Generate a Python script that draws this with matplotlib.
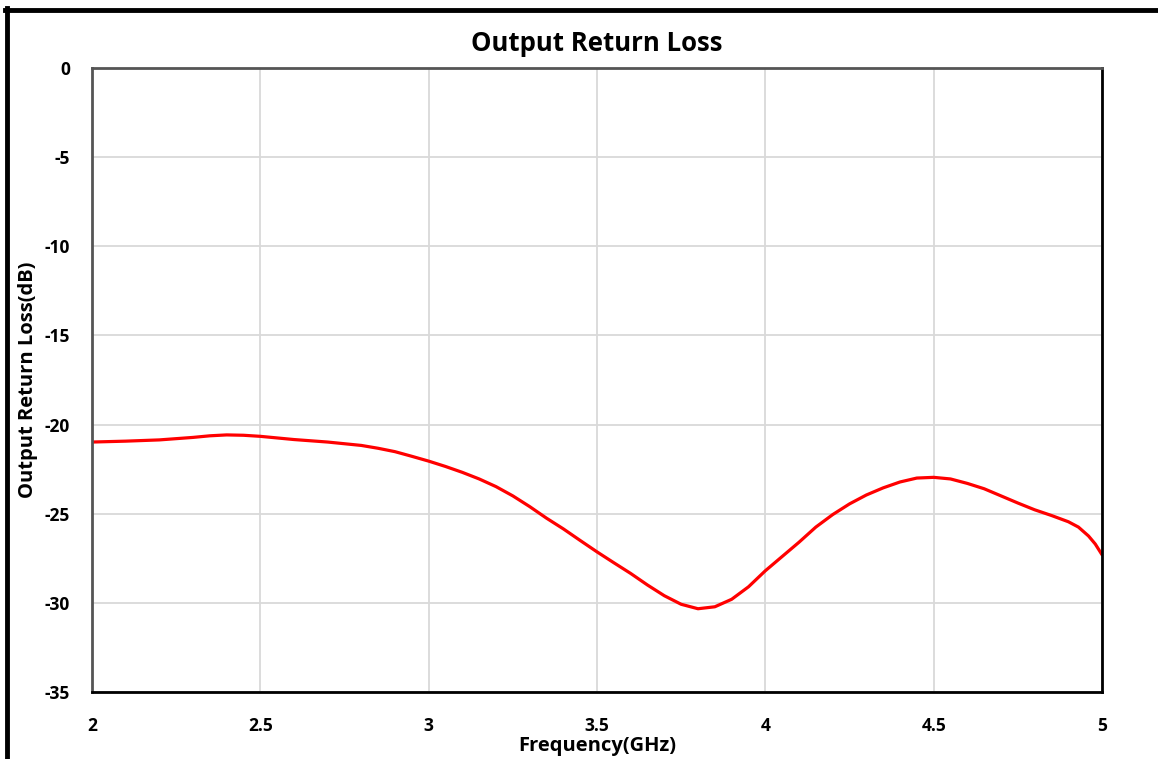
import matplotlib.pyplot as plt
from matplotlib.lines import Line2D

plt.rcParams["axes.unicode_minus"] = False

# values
freq_ghz = [2.0, 2.1, 2.2, 2.3, 2.35, 2.4, 2.45, 2.5, 2.6, 2.7,
            2.8, 2.85, 2.9, 2.95, 3.0, 3.05, 3.1, 3.15, 3.2, 3.25,
            3.3, 3.35, 3.4, 3.45, 3.5, 3.55, 3.6, 3.65, 3.7, 3.75,
            3.8, 3.85, 3.9, 3.95, 4.0, 4.05, 4.1, 4.15, 4.2, 4.25,
            4.3, 4.35, 4.4, 4.45, 4.5, 4.55, 4.6, 4.65, 4.7, 4.75,
            4.8, 4.85, 4.9, 4.93, 4.96, 4.98, 5.0]
return_loss_db = [-20.98, -20.93, -20.86, -20.72, -20.63, -20.58, -20.6, -20.66, -20.84, -20.98,
                  -21.17, -21.33, -21.52, -21.78, -22.05, -22.35, -22.68, -23.05, -23.48, -24.0,
                  -24.6, -25.25, -25.85, -26.5, -27.14, -27.75, -28.35, -29.0, -29.6, -30.08,
                  -30.33, -30.22, -29.8, -29.1, -28.2, -27.4, -26.6, -25.75, -25.05, -24.45,
                  -23.95, -23.55, -23.22, -23.0, -22.96, -23.05, -23.3, -23.6, -24.0, -24.4,
                  -24.78, -25.1, -25.45, -25.75, -26.25, -26.7, -27.3]

x_ticks = [2, 2.5, 3, 3.5, 4, 4.5, 5]
x_tick_labels = ["2", "2.5", "3", "3.5", "4", "4.5", "5"]
y_ticks = [0, -5, -10, -15, -20, -25, -30, -35]

FONT = "Open Sans"

fig = plt.figure(figsize=(11.58, 7.59), dpi=100, facecolor="white")
ax = fig.add_axes([92 / 1158, 1 - 692 / 759, 1010 / 1158, 624 / 759])

ax.plot(freq_ghz, return_loss_db, color="#ff0000", linewidth=2.3,
        solid_capstyle="round", solid_joinstyle="round")

ax.set_xlim(2, 5)
ax.set_ylim(-35, 0)
ax.set_xticks(x_ticks)
ax.set_xticklabels(x_tick_labels)
ax.set_yticks(y_ticks)
ax.grid(True, color="#d9d9d9", linewidth=1.3)
ax.set_axisbelow(True)
ax.tick_params(axis="x", length=0, pad=18)
ax.tick_params(axis="y", length=0, pad=16)
for label in ax.get_xticklabels() + ax.get_yticklabels():
    label.set_fontfamily(FONT)
    label.set_fontweight("bold")
    label.set_fontsize(12.5)

for side in ["left", "top"]:
    ax.spines[side].set_color("#555555")
    ax.spines[side].set_linewidth(2)
for side in ["right", "bottom"]:
    ax.spines[side].set_color("black")
    ax.spines[side].set_linewidth(2)

ax.set_title("Output Return Loss", fontfamily=FONT, fontweight="bold", fontsize=18.5, pad=12)
ax.set_xlabel("Frequency(GHz)", fontfamily=FONT, fontweight="bold", fontsize=14.5, labelpad=1)
ax.set_ylabel("Output Return Loss(dB)", fontfamily=FONT, fontweight="bold", fontsize=14.5)
ax.yaxis.set_label_coords(-0.053, 0.5)

# outer frame running off the right and bottom edges
fig.add_artist(Line2D([7.5 / 1158, 7.5 / 1158], [0, 1 - 8 / 759], color="black", linewidth=3.5,
                      transform=fig.transFigure))
fig.add_artist(Line2D([5 / 1158, 1], [1 - 10 / 759, 1 - 10 / 759], color="black", linewidth=3.5,
                      transform=fig.transFigure))

fig.savefig("out.png", dpi=100, facecolor="white")
